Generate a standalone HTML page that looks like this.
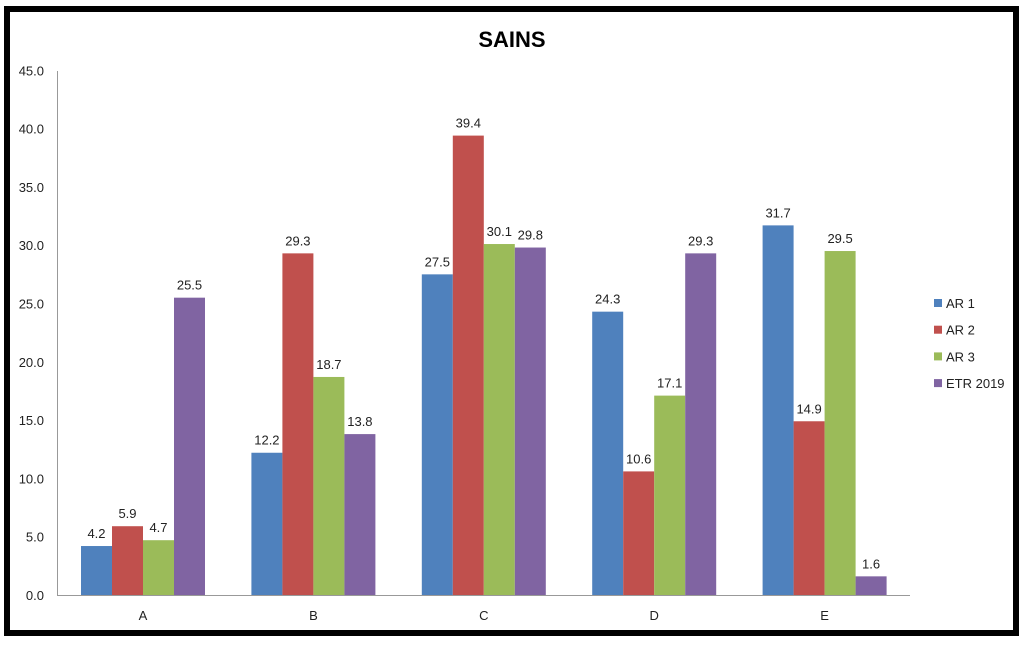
<!DOCTYPE html>
<html><head><meta charset="utf-8"><style>
html,body{margin:0;padding:0;background:#fff;width:1024px;height:645px;overflow:hidden}
svg{display:block;font-family:"Liberation Sans",sans-serif}
</style></head><body>
<svg id="c" width="1024" height="645" xmlns="http://www.w3.org/2000/svg">
<rect x="7" y="9" width="1009" height="624" fill="#fff" stroke="#000" stroke-width="6"/>
<text x="512" y="47" text-anchor="middle" font-size="22" font-weight="bold">SAINS</text>
<g id="g"></g>
</svg>
<script>
var g=document.getElementById('g'),s='';
var y0=595,k=11.66,cols=['#4f81bd','#c0504d','#9bbb59','#8064a2'];
var data=[[4.2,5.9,4.7,25.5],[12.2,29.3,18.7,13.8],[27.5,39.4,30.1,29.8],[24.3,10.6,17.1,29.3],[31.7,14.9,29.5,1.6]];
for(var i=0;i<=9;i++){var v=i*5,y=y0-v*k;s+='<text x="44" y="'+(y+5)+'" text-anchor="end" font-size="13" fill="#222">'+v.toFixed(1)+'</text>';}
s+='<line x1="57.5" y1="71" x2="57.5" y2="'+y0+'" stroke="#999"/>';
s+='<line x1="57" y1="'+(y0+0.5)+'" x2="910" y2="'+(y0+0.5)+'" stroke="#999"/>';
var L=['A','B','C','D','E'];
for(var c=0;c<5;c++){var x0=81+c*170.4;
 for(var b=0;b<4;b++){var v=data[c][b],x=x0+b*31,h=v*k;
  s+='<rect x="'+x+'" y="'+(y0-h)+'" width="31" height="'+h+'" fill="'+cols[b]+'"/>';
  s+='<text x="'+(x+15.5)+'" y="'+(y0-h-8)+'" text-anchor="middle" font-size="13" fill="#222">'+v.toFixed(1)+'</text>';}
 s+='<text x="'+(x0+62)+'" y="620" text-anchor="middle" font-size="13" fill="#222">'+L[c]+'</text>';}
var N=['AR 1','AR 2','AR 3','ETR 2019'];
for(var b=0;b<4;b++){var y=299+b*26.7;s+='<rect x="934" y="'+y+'" width="8" height="8" fill="'+cols[b]+'"/><text x="946" y="'+(y+9)+'" font-size="13" fill="#222">'+N[b]+'</text>';}
g.innerHTML=s;
</script>
</body></html>
